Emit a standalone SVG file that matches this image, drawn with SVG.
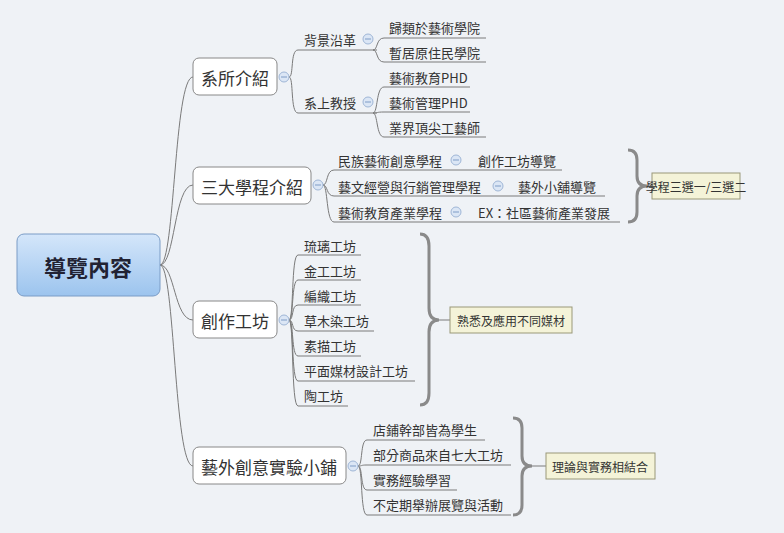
<svg xmlns="http://www.w3.org/2000/svg" width="784" height="533" viewBox="0 0 784 533">
<defs>
<linearGradient id="rg" x1="0" y1="0" x2="0" y2="1"><stop offset="0" stop-color="#d4e6fa"/><stop offset="1" stop-color="#9cc4ee"/></linearGradient>
<style>
text{font-family:"Noto Sans CJK TC","Noto Sans CJK SC",sans-serif;fill:#333;dominant-baseline:central}
.t{font-size:17px}.l{font-size:13px}.s{font-size:12px}
.box{fill:#fff;stroke:#888;stroke-width:1}
.c{fill:none;stroke:#7a7a7a;stroke-width:1}
.br{fill:none;stroke:#8a8a8a;stroke-width:3}
.m{fill:#dbe6f5;stroke:#9fb6d6;stroke-width:1}
.mm{stroke:#7f9cc6;stroke-width:1}
.lab{fill:#f4f3d8;stroke:#9a9878;stroke-width:1}
</style>
</defs>
<rect width="784" height="533" fill="#eff2f6"/>
<g id="connectors">
<path class="c" d="M160,265 C175,265 174,77 193,77 M160,265 C175,265 174,185 193,185 M160,265 C175,265 174,320 193,320 M160,265 C175,265 174,466 193,466"/>
<path class="c" d="M289,77 C294,77 290,50 298,50 L377,50 M289,77 C294,77 290,113 298,113 L377,113"/>
<path class="c" d="M373,50 C378,50 376,38 384,38 L486,38 M373,50 C378,50 376,62 384,62 L486,62"/>
<path class="c" d="M373,113 C378,113 376,87 384,87 L470,87 M373,113 C378,113 376,112 384,112 L470,112 M373,113 C378,113 376,137 384,137 L486,137"/>
<path class="c" d="M323,185 C328,185 326,170 334,170 L562,170 M323,185 C328,185 326,196 334,196 L605,196 M323,185 C328,185 326,222 334,222 L620,222"/>
<path class="c" d="M289,320 C294,320 291,255 298,255 L361,255 M289,320 C294,320 291,280 298,280 L361,280 M289,320 C294,320 291,305 298,305 L361,305 M289,320 C294,320 291,331 298,331 L374,331 M289,320 C294,320 291,356 298,356 L361,356 M289,320 C294,320 291,381 298,381 L415,381 M289,320 C294,320 291,406 298,406 L348,406"/>
<path class="c" d="M358,466 C363,466 360,440 367,440 L485,440 M358,466 C363,466 360,465 367,465 L511,465 M358,466 C363,466 360,490 367,490 L457,490 M358,466 C363,466 360,515 367,515 L511,515"/>
<path class="br" d="M628,150 Q637,150 637,160 L637,176 Q637,186 647,186 Q637,186 637,196 L637,212 Q637,222 628,222"/>
<path class="br" d="M420,234 Q429,234 429,246 L429,308 Q429,320 439,320 Q429,320 429,332 L429,393 Q429,405 420,405"/>
<path class="br" d="M513,418 Q522,418 522,428 L522,456 Q522,466 532,466 Q522,466 522,476 L522,505 Q522,515 513,515"/>
<path class="c" d="M647,186 L652,186 M439,320 L450,320 M532,466 L546,466"/>
</g>
<g id="root"><rect x="17" y="234" width="143" height="62" rx="7" fill="url(#rg)" stroke="#7a9cc6"/><text x="88" y="266" text-anchor="middle" style="font-size:22px;font-weight:bold;fill:#223">導覽內容</text></g>
<g id="n1"><rect class="box" x="193" y="58" width="84" height="37" rx="6"/><text class="t" x="235" y="77" text-anchor="middle">系所介紹</text><circle class="m" cx="284" cy="77" r="5"/><path class="mm" d="M281,77h6"/></g>
<g id="n2"><rect class="box" x="193" y="167" width="118" height="37" rx="6"/><text class="t" x="252" y="186" text-anchor="middle">三大學程介紹</text><circle class="m" cx="318" cy="185" r="5"/><path class="mm" d="M315,185h6"/></g>
<g id="n3"><rect class="box" x="193" y="301" width="84" height="37" rx="6"/><text class="t" x="235" y="320" text-anchor="middle">創作工坊</text><circle class="m" cx="284" cy="320" r="5"/><path class="mm" d="M281,320h6"/></g>
<g id="n4"><rect class="box" x="193" y="447" width="153" height="37" rx="6"/><text class="t" x="269" y="466" text-anchor="middle">藝外創意實驗小鋪</text><circle class="m" cx="353" cy="466" r="5"/><path class="mm" d="M350,466h6"/></g>
<g id="n1a"><text class="l" x="304" y="39">背景沿革</text><circle class="m" cx="368" cy="39" r="5"/><path class="mm" d="M365,39h6"/></g>
<g id="n1b"><text class="l" x="304" y="102">系上教授</text><circle class="m" cx="368" cy="102" r="5"/><path class="mm" d="M365,102h6"/></g>
<g id="n1a1"><text class="l" x="389" y="27">歸類於藝術學院</text></g>
<g id="n1a2"><text class="l" x="389" y="52">暫居原住民學院</text></g>
<g id="n1b1"><text class="l" x="389" y="77">藝術教育PHD</text></g>
<g id="n1b2"><text class="l" x="389" y="102">藝術管理PHD</text></g>
<g id="n1b3"><text class="l" x="389" y="127">業界頂尖工藝師</text></g>
<g id="n2a"><text class="l" x="338" y="160">民族藝術創意學程</text><circle class="m" cx="456" cy="160" r="5"/><path class="mm" d="M453,160h6"/><text class="l" x="478" y="160">創作工坊導覽</text></g>
<g id="n2b"><text class="l" x="338" y="186">藝文經營與行銷管理學程</text><circle class="m" cx="498" cy="186" r="5"/><path class="mm" d="M495,186h6"/><text class="l" x="518" y="186">藝外小舖導覽</text></g>
<g id="n2c"><text class="l" x="338" y="212">藝術教育產業學程</text><circle class="m" cx="456" cy="212" r="5"/><path class="mm" d="M453,212h6"/><text class="l" x="478" y="212">EX：社區藝術產業發展</text></g>
<g id="lab1"><rect class="lab" x="652" y="173" width="88" height="26"/><text class="s" x="696" y="186" text-anchor="middle">學程三選一/三選二</text></g>
<g id="n3a"><text class="l" x="304" y="245">琉璃工坊</text></g>
<g id="n3b"><text class="l" x="304" y="270">金工工坊</text></g>
<g id="n3c"><text class="l" x="304" y="295">編織工坊</text></g>
<g id="n3d"><text class="l" x="304" y="320">草木染工坊</text></g>
<g id="n3e"><text class="l" x="304" y="345">素描工坊</text></g>
<g id="n3f"><text class="l" x="304" y="370">平面媒材設計工坊</text></g>
<g id="n3g"><text class="l" x="304" y="395">陶工坊</text></g>
<g id="lab2"><rect class="lab" x="450" y="307" width="122" height="26"/><text class="s" x="511" y="320" text-anchor="middle">熟悉及應用不同媒材</text></g>
<g id="n4a"><text class="l" x="373" y="429">店鋪幹部皆為學生</text></g>
<g id="n4b"><text class="l" x="373" y="454">部分商品來自七大工坊</text></g>
<g id="n4c"><text class="l" x="373" y="479">實務經驗學習</text></g>
<g id="n4d"><text class="l" x="373" y="504">不定期舉辦展覽與活動</text></g>
<g id="lab3"><rect class="lab" x="546" y="453" width="109" height="26"/><text class="s" x="600" y="466" text-anchor="middle">理論與實務相結合</text></g>
</svg>
